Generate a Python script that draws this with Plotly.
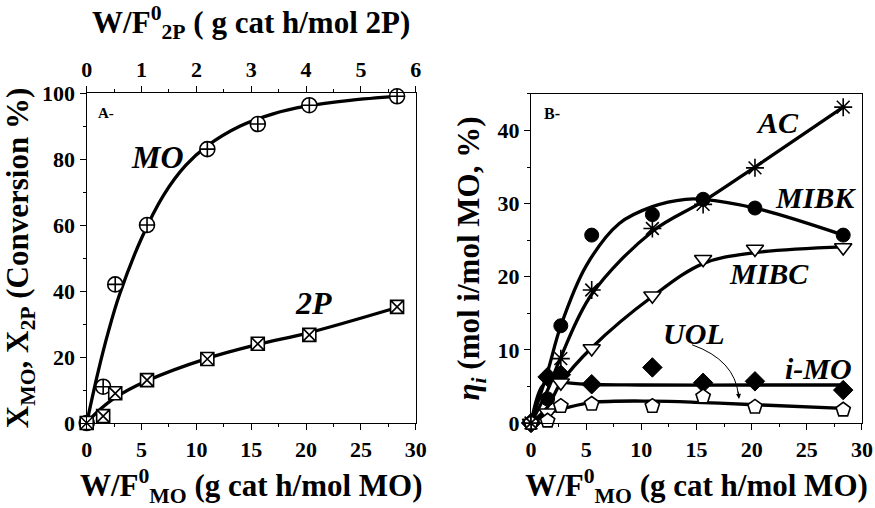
import plotly.graph_objects as go

# ---------------- data: panel A ----------------
wf_mo = [0, 1.5, 2.6, 5.5, 11.0, 15.6, 20.3, 28.3]
x_mo = [0, 11.0, 42.0, 60.0, 83.0, 90.6, 96.3, 99.0]
x_2p = [0, 2.1, 9.0, 13.0, 19.4, 24.0, 26.7, 35.2]

# fitted curves
fit_mo_x = [0, 1, 2, 3, 5, 7, 9, 11, 14, 17, 20, 24, 28.3]
fit_mo_y = [0, 15, 28, 39, 56, 69, 78, 84, 90, 93.7, 96, 97.8, 99]
fit_2p_x = [0, 1, 2.5, 5.5, 11, 15.6, 20.3, 28.3]
fit_2p_y = [0, 3.5, 7.5, 12.8, 19.6, 23.8, 27.4, 35.0]

top_ticks = [0, 1, 2, 3, 4, 5, 6]

# ---------------- data: panel B ----------------
wf_b = [0, 1.5, 2.7, 5.5, 11.0, 15.6, 20.3, 28.3]
ac = [0, -0.3, 8.8, 18.2, 26.6, 29.9, 34.9, 43.2]
mibk = [0, 3.3, 13.3, 25.7, 28.5, 30.6, 29.4, 25.7]
mibc = [0, 1.4, 5.5, 10.2, 17.4, 22.4, 23.8, 24.0]
imo = [0, 6.3, 6.6, 5.3, 7.6, 5.5, 5.7, 4.5]
uol = [0, 0.3, 2.3, 2.6, 2.3, 3.6, 2.2, 1.8]

fit_ac_x = [0, 1.5, 2.7, 5.5, 11, 15.6, 20.3, 28.3]
fit_ac_y = [0, 4.5, 9.0, 17.6, 26.2, 30.3, 35.0, 43.2]
fit_mibk_x = [0, 1.5, 2.7, 5, 8, 11, 14, 15.6, 20.3, 28.3]
fit_mibk_y = [0, 7.0, 13.3, 21.5, 27.3, 29.6, 30.6, 30.6, 29.4, 25.7]
fit_mibc_x = [0, 1.5, 2.7, 5.5, 11, 15.6, 20.3, 28.3]
fit_mibc_y = [0, 2.2, 5.5, 10.3, 17.3, 21.8, 23.3, 24.1]
fit_imo_x = [0, 1, 2, 3, 5, 10, 20, 28.3]
fit_imo_y = [0, 5.0, 6.0, 5.6, 5.3, 5.2, 5.2, 5.2]
fit_uol_x = [0, 1, 2.5, 5.5, 11, 15.6, 20.3, 28.3]
fit_uol_y = [0, 1.0, 1.8, 2.8, 3.0, 2.8, 2.5, 2.0]

FONT = "Liberation Serif, Times New Roman, DejaVu Serif, serif"
BLACK = "#000000"

fig = go.Figure()

def curve(x, y, xa, ya):
    fig.add_trace(go.Scatter(x=x, y=y, mode="lines", xaxis=xa, yaxis=ya,
                             line=dict(color=BLACK, width=3.3, shape="spline", smoothing=1.0),
                             showlegend=False, hoverinfo="skip", cliponaxis=False))

def pts(x, y, xa, ya, symbol, fill, size=14, lw=1.5):
    fig.add_trace(go.Scatter(x=x, y=y, mode="markers", xaxis=xa, yaxis=ya,
                             marker=dict(symbol=symbol, size=size, color=fill,
                                         line=dict(color=BLACK, width=lw)),
                             showlegend=False, cliponaxis=False))

# panel A
curve(fit_mo_x, fit_mo_y, "x", "y")
curve(fit_2p_x, fit_2p_y, "x", "y")
pts(wf_mo, x_mo, "x", "y", "circle-cross", "white", 15, 1.6)
pts(wf_mo, x_2p, "x", "y", "square-x", "white", 13, 1.6)
# trace on top axis (invisible) so it is rendered
fig.add_trace(go.Scatter(x=[top_ticks[0]], y=[None], xaxis="x3", yaxis="y",
                         mode="markers", showlegend=False, hoverinfo="skip"))

# panel B
curve(fit_ac_x, fit_ac_y, "x2", "y2")
curve(fit_mibk_x, fit_mibk_y, "x2", "y2")
curve(fit_mibc_x, fit_mibc_y, "x2", "y2")
curve(fit_imo_x, fit_imo_y, "x2", "y2")
curve(fit_uol_x, fit_uol_y, "x2", "y2")
pts(wf_b, mibk, "x2", "y2", "circle", BLACK, 14, 1)
pts(wf_b, imo, "x2", "y2", "diamond", BLACK, 15, 1)
pts(wf_b, mibc, "x2", "y2", "triangle-down", "white", 15, 1.6)
pts(wf_b, uol, "x2", "y2", "pentagon", "white", 15, 1.6)
pts(wf_b, ac, "x2", "y2", "asterisk-open", BLACK, 15, 1.6)

tickfont = dict(family=FONT, size=22, color=BLACK, weight="bold")
titlefont = dict(family=FONT, size=31, color=BLACK, weight="bold")

common_x = dict(showgrid=False, zeroline=False, showline=True, linecolor=BLACK, linewidth=1.4,
                ticks="outside", ticklen=6, tickwidth=1.4, tickcolor=BLACK, tickfont=tickfont,
                automargin=False,
                minor=dict(ticks="outside", ticklen=3, tickwidth=1.4, tickcolor=BLACK))

fig.update_layout(
    width=875, height=508,
    margin=dict(l=0, r=0, t=0, b=0),
    paper_bgcolor="white", plot_bgcolor="white",
    xaxis=dict(common_x, domain=[0.0991, 0.4751], range=[0, 30], dtick=5,
               minor=dict(common_x["minor"], dtick=2.5), mirror=True, anchor="y",
               title=dict(text="W/F<sup>0</sup><sub>MO</sub> (g cat h/mol MO)", font=titlefont, standoff=16)),
    xaxis3=dict(common_x, overlaying="x", side="top", anchor="y", range=[0, 6], dtick=1,
                minor=dict(common_x["minor"], dtick=0.5),
                title=dict(text="W/F<sup>0</sup><sub>2P</sub> ( g cat h/mol 2P)", font=titlefont, standoff=14)),
    yaxis=dict(common_x, domain=[0.1673, 0.8169], range=[0, 100], dtick=20,
               minor=dict(common_x["minor"], dtick=10), mirror=True, anchor="x",
               title=dict(text="X<sub>MO</sub>, X<sub>2P</sub> (Conversion %)", font=titlefont, standoff=4)),
    xaxis2=dict(common_x, domain=[0.6069, 0.9851], range=[0, 30], dtick=5,
                minor=dict(common_x["minor"], dtick=2.5), mirror=True, anchor="y2",
                title=dict(text="W/F<sup>0</sup><sub>MO</sub> (g cat h/mol MO)", font=titlefont, standoff=16)),
    yaxis2=dict(common_x, domain=[0.1673, 0.815], range=[0, 45], dtick=10,
                minor=dict(common_x["minor"], dtick=5), mirror=True, anchor="x2",
                title=dict(text="<i>η<sub>i</sub></i> (mol i/mol MO, %)", font=titlefont, standoff=8)),
)

def label(text, x, y, xref, yref, size, italic=True):
    t = f"<i>{text}</i>" if italic else text
    fig.add_annotation(text=t, x=x, y=y, xref=xref, yref=yref, showarrow=False,
                       font=dict(family=FONT, size=size, color=BLACK, weight="bold"))

label("A-", 1.8, 94, "x", "y", 15, italic=False)
label("MO", 6.5, 80.6, "x", "y", 32)
label("2P", 20.7, 36.4, "x", "y", 32)
label("B-", 1.9, 42.3, "x2", "y2", 16, italic=False)
label("AC", 22.3, 41.1, "x2", "y2", 30)
label("MIBK", 25.8, 30.9, "x2", "y2", 30)
label("MIBC", 21.6, 20.4, "x2", "y2", 30)
label("UOL", 14.8, 12.3, "x2", "y2", 30)
label("i-MO", 26.1, 7.5, "x2", "y2", 30)

# curved arrow UOL -> pentagon line
fig.add_shape(type="path", xref="x2", yref="y2",
              path="M 14.6,10.7 Q 18.5,8.6 18.8,3.8",
              line=dict(color=BLACK, width=1))
fig.add_annotation(x=18.85, y=3.3, ax=18.78, ay=4.5, xref="x2", yref="y2", axref="x2", ayref="y2",
                   text="", showarrow=True, arrowhead=2, arrowsize=1, arrowwidth=1, arrowcolor=BLACK)

fig.write_html("out.html", config={"displayModeBar": False},
               post_script="document.body.style.margin='0';document.body.style.padding='0';")
